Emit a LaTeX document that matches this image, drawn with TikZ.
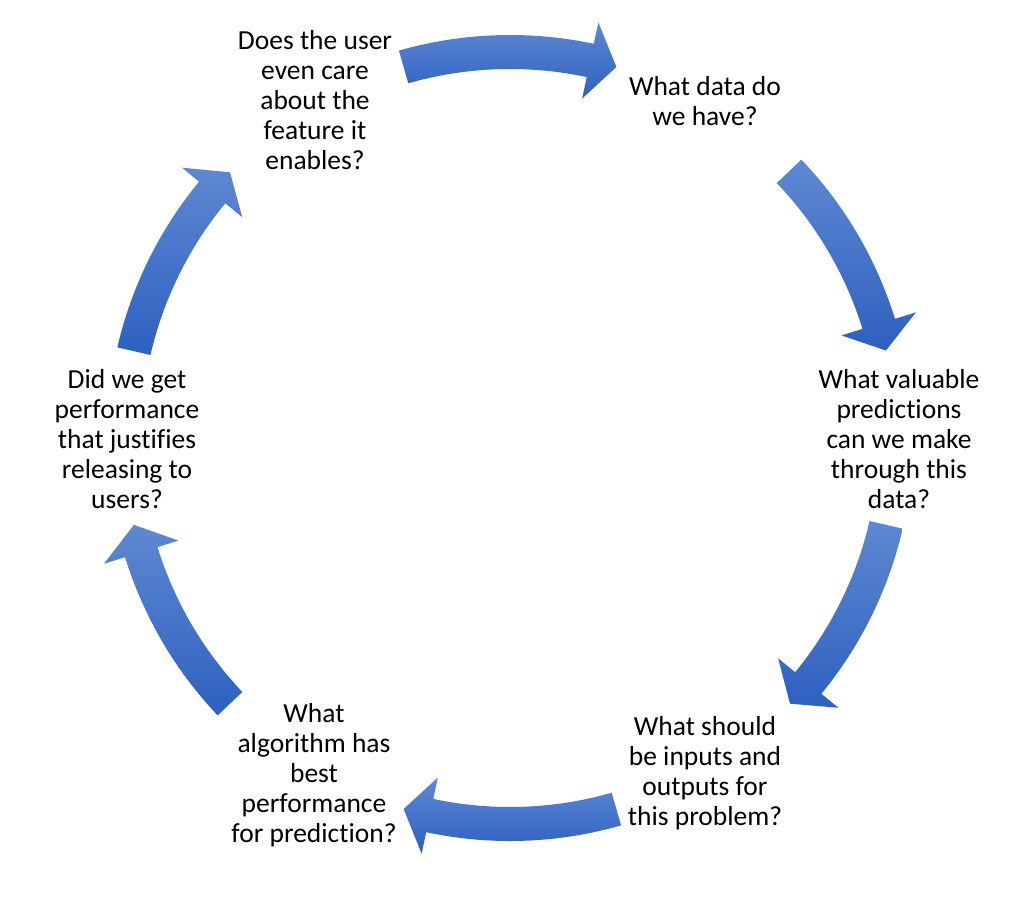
\documentclass[tikz,border=0pt]{standalone}
\usepackage{fontspec}
\setmainfont{Carlito}[Ligatures={CommonOff}]
\definecolor{arrowlight}{RGB}{94,136,210}
\definecolor{arrowdark}{RGB}{45,96,192}
\tikzset{
  question/.style={anchor=base, inner sep=0pt, font=\fontsize{27.5}{30}\selectfont, text=black},
  cycarrowstyle/.style={top color=arrowlight, bottom color=arrowdark, draw=none},
}
\newcommand\qlines[1]{\begin{tabular}[t]{@{}c@{}}#1\end{tabular}}
% #1 tail angle, #2 head base angle, #3 tip angle
\newcommand\cycarrow[3]{%
  \path[cycarrowstyle] (#1:403) arc[start angle=#1, end angle=#2, radius=403]
    -- (#2:425) -- (#3:386) -- (#2:347) -- (#2:369)
    arc[start angle=#2, end angle=#1, radius=369] -- cycle;}
\begin{document}
\begin{tikzpicture}[x=1pt, y=1pt]
  \useasboundingbox (0,0) rectangle (1026,-910);
  \fill[white] (0,0) rectangle (1026,-910);

  \node[question] (care) at (315,-49.3) {\qlines{Does the user\\even care\\about the\\feature it\\enables?}};
  \node[question] (data) at (705,-95.5) {\qlines{What data do\\we have?}};
  \node[question] (pred) at (899,-388.5) {\qlines{What valuable\\predictions\\can we make\\through this\\data?}};
  \node[question] (io) at (705,-735) {\qlines{What should\\be inputs and\\outputs for\\this problem?}};
  \node[question] (algo) at (314,-722) {\qlines{What\\algorithm has\\best\\performance\\for prediction?}};
  \node[question] (perf) at (127,-388) {\qlines{Did we get\\performance\\that justifies\\releasing to\\users?}};

  \begin{scope}[shift={(510,-438)}]
    \cycarrow{106}{78}{74}
    \cycarrow{43.7}{17.2}{13.1}
    \cycarrow{-13}{-39.4}{-43.5}
    \cycarrow{-74}{-102}{-106}
    \cycarrow{223.5}{197.2}{193}
    \cycarrow{167}{140.5}{136.5}
  \end{scope}
\end{tikzpicture}
\end{document}
